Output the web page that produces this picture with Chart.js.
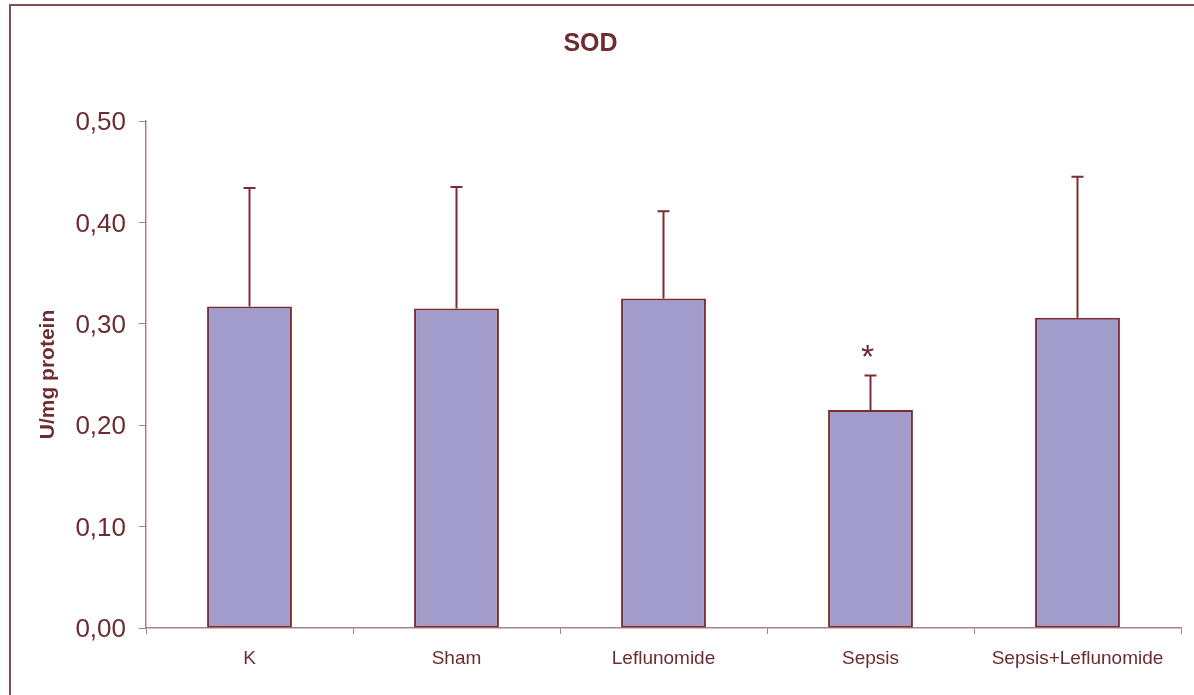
<!DOCTYPE html>
<html lang="en">
<head>
  <meta charset="UTF-8">
  <title>SOD</title>
  <script src="https://cdn.jsdelivr.net/npm/chart.js"></script>
  <style>
    html, body { margin: 0; padding: 0; background: #fff; overflow: hidden; }
    #frame {
      position: absolute; left: 9px; top: 4px; width: 1300px; height: 800px;
      border: 2px solid #8a4a4e; box-sizing: border-box;
    }
    #wrap { position: absolute; left: 0; top: 0; width: 1194px; height: 695px; }
  </style>
</head>
<body>
  <div id="frame"></div>
  <div id="wrap"><canvas id="sodChart"></canvas></div>

  <script>
    // data
    const groups = ['K', 'Sham', 'Leflunomide', 'Sepsis', 'Sepsis+Leflunomide'];
    const sodMeans = [0.317, 0.315, 0.325, 0.215, 0.306];
    const sodErrors = [0.117, 0.120, 0.086, 0.034, 0.139];
    const significant = [false, false, false, true, false];
    const yTicks = [0, 0.1, 0.2, 0.3, 0.4, 0.5];

    const textColor = '#6e2c30';
    const axisColor = '#a88184';
    const fontFamily = '"Liberation Sans", Arial, sans-serif';

    // upward error bars + asterisk
    const errorBars = {
      id: 'errorBars',
      afterDatasetsDraw(chart) {
        const ctx = chart.ctx;
        const y = chart.scales.y;
        const meta = chart.getDatasetMeta(0);
        ctx.save();
        ctx.strokeStyle = '#7a2e33';
        ctx.lineWidth = 2;
        meta.data.forEach(function (bar, i) {
          const top = y.getPixelForValue(sodMeans[i] + sodErrors[i]);
          ctx.beginPath();
          ctx.moveTo(bar.x, bar.y);
          ctx.lineTo(bar.x, top);
          ctx.moveTo(bar.x - 6, top);
          ctx.lineTo(bar.x + 6, top);
          ctx.stroke();
          if (significant[i]) {
            ctx.fillStyle = textColor;
            ctx.font = '34px ' + fontFamily;
            ctx.textAlign = 'center';
            ctx.textBaseline = 'middle';
            ctx.fillText('*', bar.x - 3, top - 17);
          }
        });
        ctx.restore();
      }
    };

    const ctx = document.getElementById('sodChart').getContext('2d');
    new Chart(ctx, {
      type: 'bar',
      data: {
        labels: groups,
        datasets: [{
          label: 'SOD',
          data: sodMeans,
          backgroundColor: '#a29ccb',
          borderColor: '#7a2e33',
          borderWidth: 2,
          borderSkipped: false,
          categoryPercentage: 1,
          barPercentage: 0.41
        }]
      },
      options: {
        responsive: true,
        maintainAspectRatio: false,
        animation: false,
        layout: { padding: { left: 0, right: 13, top: 0, bottom: 0 } },
        plugins: {
          legend: { display: false },
          tooltip: { enabled: false },
          title: {
            display: true,
            text: 'SOD',
            color: textColor,
            font: { family: fontFamily, size: 25, weight: 'bold' },
            padding: { top: 29, bottom: 62 }
          }
        },
        scales: {
          x: {
            offset: true,
            grid: { display: true, offset: true, drawOnChartArea: false, tickLength: 6, color: axisColor },
            border: { color: axisColor, width: 1.5 },
            ticks: {
              color: textColor,
              padding: 13,
              maxRotation: 0,
              font: { family: fontFamily, size: 19 }
            },
            afterFit(scale) { scale.height = 67; }
          },
          y: {
            min: 0,
            max: 0.5,
            afterBuildTicks(scale) { scale.ticks = yTicks.map(v => ({ value: v })); },
            grid: { display: true, drawOnChartArea: false, tickLength: 7, color: axisColor },
            border: { color: axisColor, width: 1.5 },
            ticks: {
              color: textColor,
              padding: 13,
              labelOffset: 2,
              font: { family: fontFamily, size: 26 },
              callback: v => v.toFixed(2).replace('.', ',')
            },
            title: {
              display: true,
              text: 'U/mg protein',
              color: textColor,
              font: { family: fontFamily, size: 21, weight: 'bold' },
              padding: { top: 36, bottom: 0 }
            },
            afterFit(scale) { scale.width = 146; }
          }
        }
      },
      plugins: [errorBars]
    });
  </script>
</body>
</html>
